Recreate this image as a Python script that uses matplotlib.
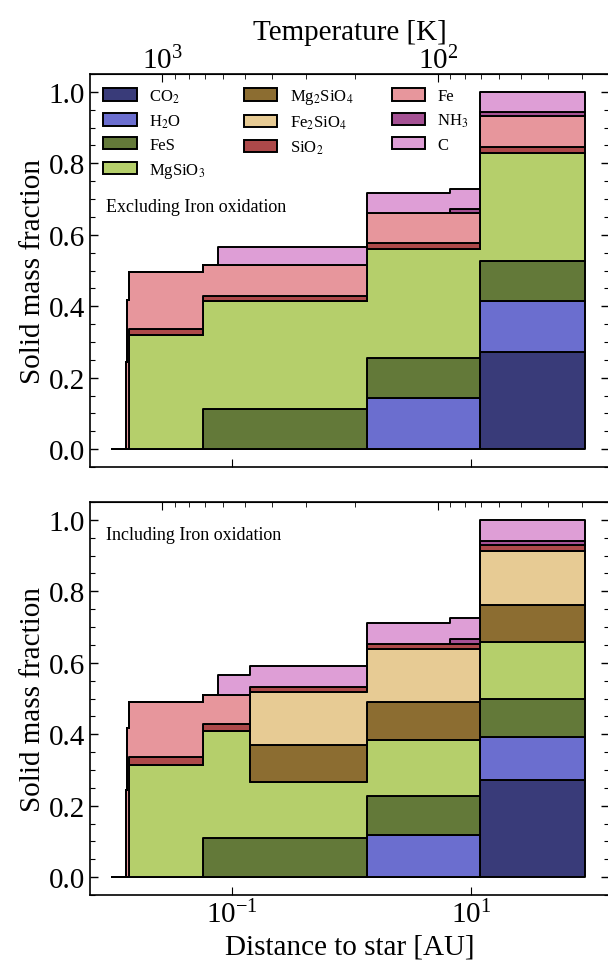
import numpy as np
import matplotlib
matplotlib.use('Agg')
import matplotlib.pyplot as plt
from matplotlib.ticker import MultipleLocator, NullLocator, NullFormatter, FixedLocator

plt.rcParams['font.family'] = ['Liberation Serif', 'DejaVu Serif']
plt.rcParams['mathtext.fontset'] = 'stix'

# --- DATA ---
# zone edges in AU (step functions, value holds until next edge)
r_edges = [0.0099, 0.0129, 0.01326, 0.0138, 0.0575, 0.0759, 0.1415, 1.34, 6.67, 11.9, 90.0]

species = ['CO$_2$', 'H$_2$O', 'FeS', 'MgSiO$_3$', 'Mg$_2$SiO$_4$',
           'Fe$_2$SiO$_4$', 'SiO$_2$', 'Fe', 'NH$_3$', 'C']
colors = ['#393b79', '#6b6ecf', '#637939', '#b5cf6b', '#8c6d31',
          '#e7cb94', '#ad494a', '#e7969c', '#a55194', '#de9ed6']

# excluding iron oxidation
co2_a     = [0, 0, 0, 0, 0, 0, 0, 0, 0, 0.272]
h2o_a     = [0, 0, 0, 0, 0, 0, 0, 0.143, 0.143, 0.144]
fes_a     = [0, 0, 0, 0, 0.112, 0.112, 0.112, 0.111, 0.111, 0.111]
mgsio3_a  = [0, 0, 0, 0.319, 0.302, 0.302, 0.302, 0.307, 0.307, 0.302]
mg2sio4_a = [0, 0, 0, 0, 0, 0, 0, 0, 0, 0]
fe2sio4_a = [0, 0, 0, 0, 0, 0, 0, 0, 0, 0]
sio2_a    = [0, 0, 0, 0.018, 0.016, 0.016, 0.016, 0.016, 0.016, 0.018]
fe_a      = [0, 0.244, 0.417, 0.159, 0.085, 0.085, 0.085, 0.084, 0.084, 0.085]
nh3_a     = [0, 0, 0, 0, 0, 0, 0, 0, 0.011, 0.013]
c_a       = [0, 0, 0, 0, 0, 0.051, 0.051, 0.056, 0.057, 0.055]

# including iron oxidation
co2_b     = [0, 0, 0, 0, 0, 0, 0, 0, 0, 0.272]
h2o_b     = [0, 0, 0, 0, 0, 0, 0, 0.118, 0.118, 0.120]
fes_b     = [0, 0, 0, 0, 0.11, 0.11, 0.11, 0.110, 0.110, 0.108]
mgsio3_b  = [0, 0, 0, 0.315, 0.30, 0.30, 0.155, 0.157, 0.157, 0.158]
mg2sio4_b = [0, 0, 0, 0, 0, 0, 0.106, 0.104, 0.104, 0.103]
fe2sio4_b = [0, 0, 0, 0, 0, 0, 0.146, 0.149, 0.149, 0.151]
sio2_b    = [0, 0, 0, 0.02, 0.02, 0.02, 0.015, 0.016, 0.016, 0.019]
fe_b      = [0, 0.244, 0.417, 0.155, 0.08, 0.08, 0, 0, 0, 0]
nh3_b     = [0, 0, 0, 0, 0, 0, 0, 0, 0.013, 0.011]
c_b       = [0, 0, 0, 0, 0, 0.055, 0.058, 0.058, 0.058, 0.058]

# temperature axis ticks
T_major = [1000, 100]
T_minor = [1000 - 100 * i for i in range(1, 9)] + [100 - 10 * i for i in range(1, 8)]

# temperature profile T = T0 * r^-q (for the top axis)
T0 = 205.6
q = 0.4334


def r2T(r):
    r = np.clip(np.asarray(r, dtype=float), 1e-12, None)
    return T0 * r ** (-q)


def T2r(T):
    T = np.clip(np.asarray(T, dtype=float), 1e-12, None)
    return (T / T0) ** (-1.0 / q)


def stepped(vals):
    return list(vals) + [vals[-1]]


fig = plt.figure(figsize=(6.08, 9.62), dpi=100)
ax1 = fig.add_axes([0.148, 0.5135, 0.854, 0.4085])
ax2 = fig.add_axes([0.148, 0.0686, 0.854, 0.4085], sharex=ax1)

sets = [
    (ax1, [co2_a, h2o_a, fes_a, mgsio3_a, mg2sio4_a, fe2sio4_a, sio2_a, fe_a, nh3_a, c_a]),
    (ax2, [co2_b, h2o_b, fes_b, mgsio3_b, mg2sio4_b, fe2sio4_b, sio2_b, fe_b, nh3_b, c_b]),
]

for ax, layers in sets:
    ax.stackplot(r_edges, [stepped(v) for v in layers], step='post',
                 colors=colors, labels=species, edgecolor='k', linewidth=1.4)
    ax.set_xscale('log')
    ax.set_xlim(0.0065, 143)
    ax.set_ylim(-0.05, 1.05)
    ax.yaxis.set_major_locator(MultipleLocator(0.2))
    ax.yaxis.set_minor_locator(MultipleLocator(0.05))
    ax.set_xticks([0.1, 10])
    ax.xaxis.set_minor_locator(NullLocator())
    ax.tick_params(axis='y', which='both', direction='in', left=True, right=True, labelsize=21)
    ax.tick_params(axis='y', which='major', length=6, width=1)
    ax.tick_params(axis='y', which='minor', length=3.5, width=0.8)
    ax.tick_params(axis='x', which='both', direction='in', top=False, labelsize=21, length=6)
    ax.set_ylabel('Solid mass fraction', fontsize=21, labelpad=2)
    for s in ax.spines.values():
        s.set_linewidth(1.2)

    sec = ax.secondary_xaxis('top', functions=(r2T, T2r))
    sec.xaxis.set_major_locator(FixedLocator(T_major))
    sec.xaxis.set_minor_locator(FixedLocator(T_minor))
    sec.xaxis.set_minor_formatter(NullFormatter())
    sec.tick_params(which='both', direction='in', labelsize=21, pad=0)
    sec.tick_params(which='major', length=6)
    sec.tick_params(which='minor', length=3.5)
    if ax is ax1:
        sec.set_xlabel('Temperature [K]', fontsize=21, labelpad=5)
    else:
        sec.xaxis.set_major_formatter(NullFormatter())

ax1.tick_params(axis='x', labelbottom=False)
ax2.set_xlabel('Distance to star [AU]', fontsize=21)

ax1.legend(loc='upper left', ncol=3, frameon=False, fontsize=12,
           handlelength=2.0, handleheight=0.75, handletextpad=0.75,
           columnspacing=2.3, labelspacing=0.45, borderaxespad=0.4)

ax1.text(0.03, 0.662, 'Excluding Iron oxidation', transform=ax1.transAxes,
         fontsize=13, va='center', ha='left')
ax2.text(0.03, 0.918, 'Including Iron oxidation', transform=ax2.transAxes,
         fontsize=13, va='center', ha='left')

fig.savefig('out.png', dpi=100)
